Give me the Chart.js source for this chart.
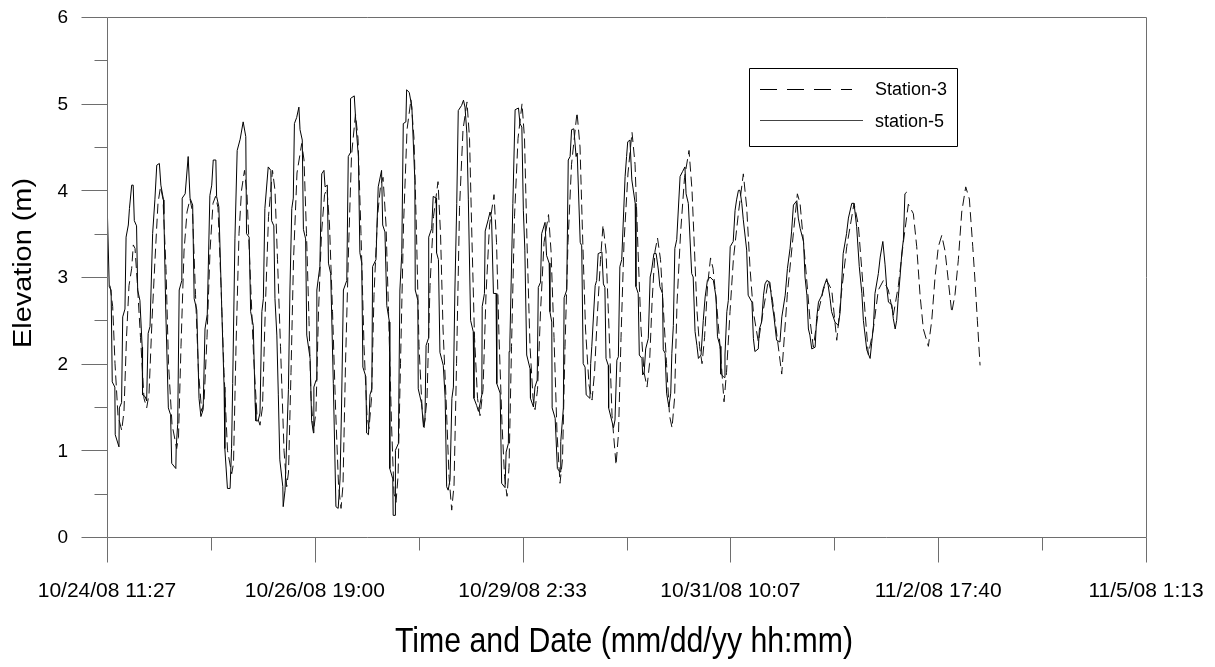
<!DOCTYPE html>
<html>
<head>
<meta charset="utf-8">
<script src="https://cdn.jsdelivr.net/npm/chart.js@4.4.1/dist/chart.umd.min.js"></script>
<style>
html,body{margin:0;padding:0;background:#fff;}
#wrap{width:1215px;height:667px;}
</style>
</head>
<body>
<div id="wrap"><canvas id="c" width="1215" height="667"></canvas></div>
<script>
// Time axis: hours elapsed since 10/24/08 11:27
const xTickLabels = ['10/24/08 11:27','10/26/08 19:00','10/29/08 2:33','10/31/08 10:07','11/2/08 17:40','11/5/08 1:13'];
const xTickHours = [0, 55.55, 111.1, 166.65, 222.2, 277.75];
const yTicks = [0, 1, 2, 3, 4, 5, 6];
const seriesLabels = ['Station-3', 'station-5'];

// station-5 (solid)
const s5Hours = [
0.1,0.6,1.1,1.4,2.1,2.2,3.2,3.3,3.9,4.2,4.8,5.1,5.7,6.0,6.6,7.0,7.3,7.9,8.2,8.8,9.4,9.5,10.2,10.6,11.0,11.5,12.2,12.8,13.3,14.0,14.4,15.1,15.2,15.7,16.4,17.0,17.3,18.4,18.5,18.9,19.3,20.0,20.1,20.9,21.7,22.2,22.9,23.3,24.0,24.6,25.1,25.7,26.2,26.8,27.5,28.0,28.4,29.1,29.3,29.9,30.7,31.3,31.5,32.2,32.9,33.3,33.6,34.2,34.8,35.6,36.4,37.1,37.3,38.0,38.4,39.1,39.6,39.8,40.4,40.9,41.4,41.8,42.2,43.1,43.8,44.0,44.6,44.9,45.4,45.8,46.2,47.0,47.1,47.6,48.5,48.9,49.4,49.8,50.1,50.7,51.3,51.6,52.2,52.5,53.1,53.4,54.3,54.7,55.2,
55.3,55.9,56.1,56.9,57.4,58.0,58.3,58.9,59.2,59.8,60.5,61.2,61.8,62.3,62.7,63.2,64.1,64.5,65.0,65.1,66.1,66.6,67.2,67.6,68.1,68.4,69.2,69.4,69.9,70.3,70.8,71.0,71.9,72.5,73.4,73.7,74.3,74.8,75.5,75.6,76.4,76.5,77.0,77.1,77.9,78.3,78.8,79.2,79.9,80.1,80.8,81.5,82.3,82.4,83.1,83.2,84.1,84.6,85.0,85.3,85.9,86.0,86.8,87.2,88.0,88.1,88.6,89.0,89.9,90.4,90.8,91.2,91.7,92.2,92.6,93.0,93.5,93.9,94.8,95.3,95.7,96.2,96.6,97.2,97.9,98.1,98.8,99.3,100.2,100.3,100.9,101.1,101.9,102.4,102.8,103.3,104.0,104.2,105.1,105.5,106.4,106.7,107.3,
107.5,107.7,108.5,109.1,110.0,110.4,110.9,111.3,111.7,112.2,113.1,113.2,114.0,114.4,115.0,115.3,115.9,116.2,117.1,117.5,118.2,118.4,118.9,119.0,119.8,120.4,121.1,121.3,122.0,122.2,122.9,123.3,123.8,124.2,124.8,125.4,125.7,126.5,126.9,127.3,127.8,128.1,129.1,129.3,129.6,130.5,130.9,131.3,132.3,132.7,133.1,133.4,134.0,134.1,135.4,135.8,136.3,136.7,137.1,137.6,138.5,138.9,139.2,139.8,140.3,141.2,141.4,142.0,142.3,143.0,143.2,143.6,144.0,144.7,145.2,145.6,146.2,146.8,147.4,147.8,148.5,148.7,149.2,149.6,150.2,150.7,151.0,151.4,151.8,152.3,153.2,153.9,154.5,154.8,155.4,156.3,156.7,157.2,157.7,158.1,158.8,
159.4,159.9,160.5,161.2,162.1,162.8,163.2,163.9,164.1,165.0,165.2,165.7,166.1,166.6,167.4,167.9,168.3,168.8,169.2,169.7,170.1,171.0,171.4,172.4,172.8,173.2,174.1,174.4,175.0,175.5,175.9,176.4,177.2,177.7,178.3,179.0,179.9,180.4,181.3,181.9,182.6,183.0,183.5,184.4,184.8,185.3,186.2,186.6,187.1,187.5,187.9,188.4,189.3,189.7,190.2,191.1,191.5,192.4,192.8,193.3,193.7,194.6,195.5,196.0,196.8,197.7,198.2,199.1,199.7,200.4,201.1,201.8,202.2,203.1,204.0,204.4,204.9,205.3,206.2,206.7,207.4,208.0,208.4,208.9,209.8,210.2,210.7,211.1,211.5,212.0,212.5,212.9,213.3,213.8
];
const s5Values = [
3.75,2.89,2.85,1.79,1.73,1.18,1.04,1.49,1.55,2.54,2.63,3.46,3.60,3.79,4.06,4.06,3.65,3.59,2.85,2.73,2.19,1.64,1.62,1.57,2.35,2.43,3.50,3.89,4.29,4.31,4.06,3.89,3.73,2.63,1.49,1.41,0.85,0.79,1.04,1.30,2.85,2.96,3.91,3.96,4.39,3.91,3.83,2.75,2.62,1.60,1.39,1.47,2.40,2.57,3.94,4.06,4.35,4.35,3.93,3.81,2.60,1.73,1.02,0.56,0.56,1.02,1.77,3.44,4.46,4.59,4.79,4.62,3.50,3.46,2.60,2.44,1.55,1.34,1.34,1.43,2.60,2.75,3.79,4.27,4.23,3.65,3.59,2.75,2.33,1.64,0.89,0.58,0.35,0.54,1.70,2.85,3.79,3.91,4.77,4.84,4.96,4.70,4.58,3.55,3.44,2.33,2.06,1.34,1.20,
1.73,1.81,2.85,3.12,4.19,4.23,4.04,4.06,3.16,3.04,1.77,0.35,0.33,0.67,1.50,2.85,2.96,4.39,4.43,5.06,5.09,4.73,4.39,3.28,3.16,1.96,1.85,1.20,1.18,1.64,1.71,3.12,3.20,4.04,4.23,3.60,3.52,2.67,2.48,0.79,0.67,0.25,0.25,1.00,1.08,2.85,3.27,4.77,4.79,5.16,5.13,4.96,4.11,2.85,2.73,1.71,1.54,1.27,1.35,2.21,2.29,3.46,3.56,3.93,3.91,3.28,3.20,2.13,1.98,1.60,0.58,0.54,0.66,1.60,1.73,2.85,3.85,4.92,4.98,5.04,4.96,4.66,3.89,2.50,2.37,1.60,1.52,1.45,1.64,2.66,2.81,3.53,3.66,3.75,3.68,2.81,2.81,1.77,1.66,0.62,0.57,0.98,1.08,
2.14,2.25,3.85,4.93,4.95,4.77,4.73,3.77,3.31,2.10,1.94,1.60,1.50,1.73,1.81,2.88,2.94,3.50,3.63,3.25,3.16,2.60,2.48,1.49,1.37,0.79,0.75,1.10,1.49,2.76,2.85,4.35,4.39,4.70,4.71,4.39,4.43,3.40,3.36,2.00,1.96,1.64,1.60,2.00,2.20,2.90,2.96,3.27,3.29,2.92,2.88,2.06,1.98,1.49,1.26,1.35,2.04,2.08,3.12,3.20,4.16,4.39,4.56,4.58,4.12,3.85,2.89,2.81,2.10,2.06,1.87,1.90,2.17,2.29,3.00,3.08,3.27,3.27,3.08,2.89,2.81,2.16,2.12,1.66,1.50,1.66,2.12,2.44,3.33,3.43,4.16,4.22,4.27,3.96,3.85,3.04,3.00,2.37,2.21,2.06,2.10,
2.50,2.77,2.96,3.00,2.96,2.77,2.31,2.20,1.88,1.84,2.10,2.60,2.73,3.35,3.41,3.77,3.89,4.00,4.00,3.85,3.66,3.31,2.79,2.71,2.29,2.14,2.17,2.40,2.48,2.79,2.92,2.96,2.94,2.73,2.54,2.27,2.25,2.54,2.79,3.10,3.33,3.52,3.83,3.88,3.68,3.56,3.41,3.00,2.79,2.40,2.33,2.17,2.19,2.52,2.71,2.79,2.87,2.98,2.90,2.75,2.60,2.48,2.44,2.60,3.27,3.50,3.68,3.85,3.85,3.58,3.12,2.81,2.50,2.16,2.06,2.23,2.44,2.81,3.04,3.23,3.41,3.14,2.90,2.71,2.68,2.52,2.40,2.50,2.75,3.00,3.29,3.43,3.96,3.98
];

// Station-3 (dashed)
const s3Hours = [
0.80,1.52,2.14,2.94,3.93,4.54,5.21,5.88,6.60,7.03,7.49,8.15,8.96,9.89,10.61,11.23,12.03,12.83,13.63,14.30,14.97,15.77,16.44,17.38,18.63,19.11,19.78,20.59,21.39,22.19,22.86,23.66,24.46,25.32,25.93,26.73,27.54,28.34,29.01,29.67,30.48,31.28,32.21,33.34,33.82,34.49,35.29,35.96,36.76,37.43,38.23,39.17,40.10,40.90,41.57,42.37,43.18,44.24,44.91,45.58,46.38,47.32,48.04,48.52,49.19,49.86,50.79,52.05,52.67,53.33,54.00,54.54,55.21,
55.87,56.54,57.34,58.15,58.81,59.48,60.29,61.09,61.89,62.56,63.09,63.76,64.56,65.36,66.43,67.10,67.90,68.71,69.51,70.04,70.71,71.38,72.32,73.12,73.79,74.59,75.26,76.06,76.73,77.26,77.80,78.46,79.27,80.20,81.27,82.07,82.74,83.41,84.21,84.75,85.55,86.35,87.29,88.49,89.16,89.83,90.63,91.43,92.15,92.77,93.44,94.24,95.17,96.24,96.91,97.58,98.25,99.05,99.72,100.52,101.32,102.26,103.46,104.13,104.80,105.60,106.27,106.94,
107.47,108.14,108.94,109.88,110.95,111.61,112.28,113.08,113.89,114.42,115.09,115.89,116.83,118.03,118.70,119.50,120.30,121.10,121.77,122.44,123.24,124.18,125.65,126.45,127.12,127.92,128.86,129.66,130.33,131.13,131.93,132.60,133.40,134.20,135.01,136.08,136.74,137.41,138.21,139.28,140.35,141.16,141.96,142.76,143.56,144.36,145.03,145.70,146.50,147.17,147.97,148.77,149.58,150.38,151.05,151.72,152.38,153.32,154.39,155.59,156.39,157.06,157.73,158.40,159.07,159.74,160.54,161.34,162.01,163.00,163.88,164.95,
165.61,166.55,167.44,168.77,170.11,171.01,171.90,172.78,174.12,175.38,176.79,177.70,178.58,180.37,181.87,183.48,184.55,185.27,186.60,187.94,188.82,190.16,191.50,192.41,193.74,195.08,196.41,197.75,199.70,200.85,202.19,203.53,204.86,206.20,207.54,208.87,210.21,211.55,212.88,214.22,215.56,216.46,217.35,218.23,219.57,220.48,221.36,222.24,223.15,224.03,224.92,225.82,226.70,227.59,228.49,229.56,230.53,231.44,232.05,232.67,233.39
];
const s3Values = [
2.90,2.66,2.00,1.40,1.23,1.45,2.30,2.90,3.10,3.37,3.33,2.90,2.30,1.60,1.49,1.65,2.50,3.20,3.85,4.04,3.90,3.10,2.00,1.30,1.02,1.15,2.20,3.30,3.75,3.90,3.75,2.80,1.90,1.45,1.55,2.30,3.30,3.85,3.93,3.80,2.90,1.90,1.00,0.73,0.85,2.20,3.50,4.00,4.23,3.95,3.10,2.10,1.40,1.29,1.50,2.70,3.70,4.23,4.00,3.20,2.20,1.00,0.58,0.75,1.90,3.20,4.20,4.54,4.35,3.50,2.50,1.60,1.22,
1.45,2.60,3.50,3.95,4.02,3.60,2.60,1.50,0.60,0.33,0.60,2.00,3.30,4.40,4.88,4.60,3.50,2.20,1.40,1.25,1.60,2.80,3.70,4.05,4.15,3.60,2.60,1.30,0.50,0.40,0.70,2.00,3.60,4.70,5.05,4.60,3.50,2.20,1.50,1.25,1.60,2.90,3.70,4.10,3.50,2.40,1.60,0.70,0.31,0.60,2.00,3.80,4.70,5.02,4.60,3.40,2.30,1.60,1.40,1.70,2.80,3.60,3.95,3.40,2.30,1.30,0.70,0.47,
0.80,2.20,3.70,4.60,5.00,4.60,3.40,2.20,1.60,1.47,1.70,2.60,3.40,3.72,3.30,2.30,1.20,0.62,0.90,2.20,3.40,4.30,4.90,4.50,3.50,2.40,1.75,1.58,1.90,2.60,3.20,3.60,3.30,2.40,1.40,0.83,1.20,2.30,3.40,4.20,4.67,4.30,3.30,2.40,1.90,1.73,2.00,2.70,3.30,3.45,3.20,2.60,2.00,1.40,1.26,1.60,2.70,3.50,4.15,4.46,4.00,3.30,2.60,2.20,2.00,2.30,2.90,3.22,3.10,2.67,2.20,1.56,
1.90,2.60,3.20,3.73,4.19,3.80,3.10,2.60,2.25,2.60,2.96,2.80,2.50,1.88,2.80,3.50,3.96,3.85,3.20,2.50,2.19,2.60,2.85,2.96,2.85,2.27,2.85,3.35,3.85,3.60,2.85,2.10,2.40,2.85,2.96,2.85,2.56,2.90,3.40,3.84,3.73,3.35,2.79,2.40,2.20,2.50,3.00,3.35,3.48,3.30,2.95,2.59,2.80,3.20,3.75,4.04,3.90,3.35,2.95,2.50,1.98
];

const FONT = '"Liberation Sans", Arial, Helvetica, sans-serif';
const AXIS_GREY = '#6e6e6e';

function toPoints(hs, vs) { return hs.map((h, i) => ({ x: h, y: vs[i] })); }

function drawFitted(ctx, text, x, y, size, width, angle) {
  ctx.save();
  ctx.translate(x, y);
  ctx.rotate(angle);
  ctx.font = size + 'px ' + FONT;
  const w = ctx.measureText(text).width;
  ctx.scale(width / w, 1);
  ctx.textAlign = 'center';
  ctx.textBaseline = 'alphabetic';
  ctx.fillStyle = '#000';
  ctx.fillText(text, 0, 0);
  ctx.restore();
}

const framePlugin = {
  id: 'frame',
  afterDatasetsDraw(chart) {
    const { ctx, chartArea: { left, right, top, bottom }, scales: { x, y } } = chart;
    const r = v => Math.round(v) + 0.5;
    ctx.save();
    ctx.strokeStyle = AXIS_GREY;
    ctx.lineWidth = 1;
    ctx.setLineDash([]);
    ctx.beginPath();
    ctx.moveTo(r(left), r(top)); ctx.lineTo(r(right), r(top));
    ctx.lineTo(r(right), r(bottom)); ctx.lineTo(r(left), r(bottom)); ctx.closePath();
    // y ticks
    for (let i = 0; i < yTicks.length; i++) {
      const py = r(y.getPixelForValue(yTicks[i]));
      ctx.moveTo(r(left) - 26, py); ctx.lineTo(r(left), py);
      if (i < yTicks.length - 1) {
        const pm = r(y.getPixelForValue((yTicks[i] + yTicks[i + 1]) / 2));
        ctx.moveTo(r(left) - 13, pm); ctx.lineTo(r(left), pm);
      }
    }
    // x ticks
    for (let i = 0; i < xTickHours.length; i++) {
      const px = r(x.getPixelForValue(xTickHours[i]));
      ctx.moveTo(px, r(bottom)); ctx.lineTo(px, r(bottom) + 25);
      if (i < xTickHours.length - 1) {
        const pm = r(x.getPixelForValue((xTickHours[i] + xTickHours[i + 1]) / 2));
        ctx.moveTo(pm, r(bottom)); ctx.lineTo(pm, r(bottom) + 13);
      }
    }
    ctx.stroke();

    // tick labels
    ctx.fillStyle = '#000';
    ctx.font = '19px ' + FONT;
    ctx.textAlign = 'right';
    ctx.textBaseline = 'middle';
    yTicks.forEach(v => ctx.fillText(String(v), left - 39, y.getPixelForValue(v) + 1));
    ctx.font = '21px ' + FONT;
    ctx.textAlign = 'center';
    ctx.textBaseline = 'alphabetic';
    xTickHours.forEach((h, i) => ctx.fillText(xTickLabels[i], x.getPixelForValue(h), bottom + 60));

    // legend
    ctx.strokeStyle = '#000';
    ctx.beginPath();
    ctx.rect(749.5, 68.5, 208, 78);
    ctx.stroke();
    ctx.beginPath();
    ctx.setLineDash([17, 10]);
    ctx.moveTo(760, 89.5); ctx.lineTo(852, 89.5);
    ctx.stroke();
    ctx.beginPath();
    ctx.setLineDash([]);
    ctx.strokeStyle = '#444';
    ctx.moveTo(760, 120.5); ctx.lineTo(863, 120.5);
    ctx.stroke();
    ctx.fillStyle = '#000';
    ctx.font = '18px ' + FONT;
    ctx.textAlign = 'left';
    ctx.textBaseline = 'middle';
    ctx.fillText(seriesLabels[0], 875, 90);
    ctx.fillText(seriesLabels[1], 875, 122);
    ctx.restore();

    // axis titles
    drawFitted(ctx, 'Time and Date (mm/dd/yy hh:mm)', 624, 652, 35, 458, 0);
    drawFitted(ctx, 'Elevation (m)', 31, 263, 25, 170, -Math.PI / 2);
  }
};

new Chart(document.getElementById('c'), {
  type: 'line',
  data: {
    datasets: [
      {
        label: seriesLabels[0],
        data: toPoints(s3Hours, s3Values),
        borderColor: '#111',
        borderWidth: 1,
        borderDash: [10, 5],
        pointRadius: 0,
        tension: 0,
        fill: false
      },
      {
        label: seriesLabels[1],
        data: toPoints(s5Hours, s5Values),
        borderColor: '#000',
        borderWidth: 1,
        pointRadius: 0,
        tension: 0,
        fill: false
      }
    ]
  },
  options: {
    responsive: false,
    animation: false,
    events: [],
    layout: { padding: { top: 17, right: 69, left: 0, bottom: 0 }, autoPadding: false },
    plugins: { legend: { display: false }, tooltip: { enabled: false } },
    scales: {
      x: {
        type: 'linear',
        min: 0,
        max: 277.75,
        afterBuildTicks: s => { s.ticks = xTickHours.map(v => ({ value: v })); },
        afterFit: s => { s.height = 130; },
        grid: { display: false, drawTicks: false },
        border: { display: false },
        ticks: { display: false }
      },
      y: {
        min: 0,
        max: 6,
        afterBuildTicks: s => { s.ticks = yTicks.map(v => ({ value: v })); },
        afterFit: s => { s.width = 107; },
        grid: { display: false, drawTicks: false },
        border: { display: false },
        ticks: { display: false }
      }
    }
  },
  plugins: [framePlugin]
});
</script>
</body>
</html>
